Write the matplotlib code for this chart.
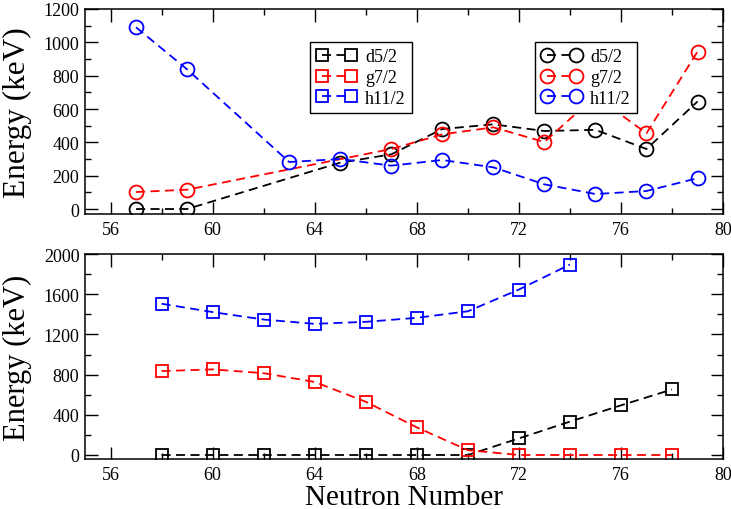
import matplotlib
matplotlib.use("Agg")
import matplotlib.pyplot as plt
from matplotlib.ticker import MultipleLocator

plt.rcParams['font.family'] = ['Liberation Serif', 'DejaVu Serif']

# ---- data: top panel (odd N, circles) ----
n_top_d = [57, 59, 65, 67, 69, 71, 73, 75, 77, 79]
e_top_d = [0, 0, 278, 328, 480, 508, 468, 475, 360, 645]
n_top_g = [57, 59, 67, 69, 71, 73, 75, 77, 79]
e_top_g = [102, 116, 360, 448, 490, 402, 678, 454, 944]
n_top_h = [57, 59, 63, 65, 67, 69, 71, 73, 75, 77, 79]
e_top_h = [1090, 838, 282, 300, 260, 294, 250, 148, 90, 108, 185]

# ---- data: bottom panel (even N, squares) ----
n_bot_d = [58, 60, 62, 64, 66, 68, 70, 72, 74, 76, 78]
e_bot_d = [0, 0, 0, 0, 0, 0, 0, 165, 332, 494, 652]
n_bot_g = [58, 60, 62, 64, 66, 68, 70, 72, 74, 76, 78]
e_bot_g = [835, 852, 814, 727, 530, 275, 48, 0, 0, 0, 0]
n_bot_h = [58, 60, 62, 64, 66, 68, 70, 72, 74]
e_bot_h = [1505, 1422, 1348, 1305, 1325, 1365, 1430, 1646, 1895]

labels = ["d5/2", "g7/2", "h11/2"]
colors = ["black", "red", "blue"]

fig = plt.figure(figsize=(7.31, 5.10), dpi=100)
ax1 = fig.add_axes([0.1163, 0.5784, 0.8728, 0.4020])
ax2 = fig.add_axes([0.1163, 0.0980, 0.8728, 0.4020])

dash = (0, (5, 3))
lw = 1.3

top_lines = []
for (n, e), c, lab in zip([(n_top_d, e_top_d), (n_top_g, e_top_g), (n_top_h, e_top_h)], colors, labels):
    l, = ax1.plot(n, e, color=c, linestyle=dash, linewidth=lw, marker='o',
                  markersize=10, markerfacecolor='none', markeredgecolor=c,
                  markeredgewidth=1.3, label=lab)
    top_lines.append(l)

bot_lines = []
for (n, e), c, lab in zip([(n_bot_d, e_bot_d), (n_bot_g, e_bot_g), (n_bot_h, e_bot_h)], colors, labels):
    l, = ax2.plot(n, e, color=c, linestyle=dash, linewidth=lw, marker='s',
                  markersize=9, markerfacecolor='none', markeredgecolor=c,
                  markeredgewidth=1.3, label=lab)
    bot_lines.append(l)

ax1.set_xlim(55, 80)
ax1.set_ylim(-30, 1200)
ax2.set_xlim(55, 80)
ax2.set_ylim(-40, 2000)

for ax, ymaj, ymin in [(ax1, 200, 100), (ax2, 400, 200)]:
    ax.xaxis.set_major_locator(MultipleLocator(4))
    ax.xaxis.set_minor_locator(MultipleLocator(2))
    ax.yaxis.set_major_locator(MultipleLocator(ymaj))
    ax.yaxis.set_minor_locator(MultipleLocator(ymin))
    ax.tick_params(which='both', direction='in', top=True, right=True,
                   width=1.0, labelsize=13)
    ax.tick_params(which='major', length=9)
    ax.tick_params(which='minor', length=4.5)
    ax.tick_params(axis='x', pad=5)
    ax.tick_params(axis='y', pad=4)
    for sp in ax.spines.values():
        sp.set_linewidth(1.1)

ax1.set_ylabel("Energy (keV)", fontsize=22.5)
ax2.set_ylabel("Energy (keV)", fontsize=22)
ax1.yaxis.set_label_coords(-0.083, 0.5)
ax2.yaxis.set_label_coords(-0.083, 0.5)
ax2.set_xlabel("Neutron Number", fontsize=21, labelpad=1)

leg_kw = dict(loc='upper left', borderaxespad=0, numpoints=2, fontsize=13,
              fancybox=False, shadow=False, framealpha=1, edgecolor='black',
              handlelength=2.2, handletextpad=0.5, labelspacing=0.2,
              borderpad=0.35)
leg1 = ax1.legend(handles=bot_lines, bbox_to_anchor=(0.3527, 0.839), **leg_kw)
leg1.get_frame().set_linewidth(1.0)
ax1.add_artist(leg1)
leg2 = ax1.legend(handles=top_lines, bbox_to_anchor=(0.7053, 0.839), **leg_kw)
leg2.get_frame().set_linewidth(1.0)

fig.savefig("out.png", dpi=100)
